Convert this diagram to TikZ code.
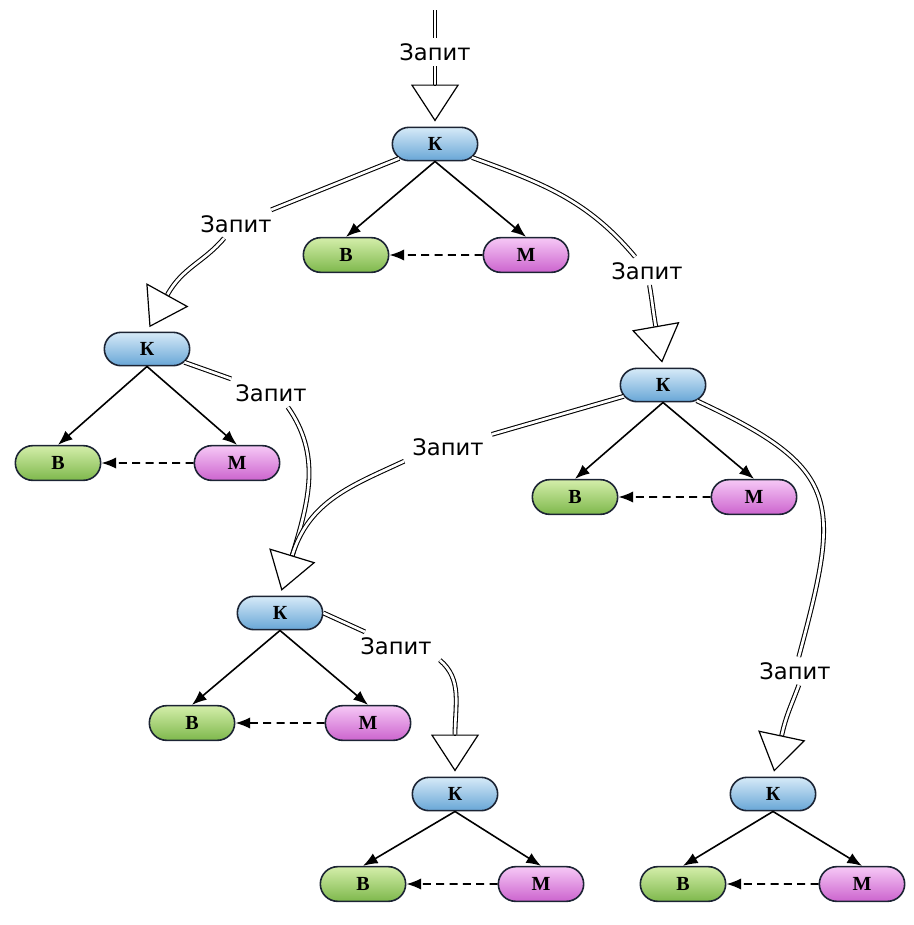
\documentclass[tikz,border=0pt]{standalone}
\usepackage{fontspec}
\usetikzlibrary{shapes.misc,arrows.meta}
\newfontfamily\zapfont{DejaVu Sans}
\newfontfamily\boxfont{Liberation Serif}
\definecolor{box_edge}{RGB}{28, 36, 52}
\definecolor{k_top}{RGB}{214, 234, 248}
\definecolor{k_bot}{RGB}{104, 166, 214}
\definecolor{b_top}{RGB}{212, 238, 170}
\definecolor{b_bot}{RGB}{126, 184, 76}
\definecolor{m_top}{RGB}{246, 200, 246}
\definecolor{m_bot}{RGB}{204, 100, 206}
\tikzstyle{kn}=[rounded rectangle,draw=box_edge,line width=1.2pt,
  top color=k_top,bottom color=k_bot,inner sep=0pt,
  minimum width=64pt,minimum height=25pt,
  font=\boxfont\bfseries\fontsize{15pt}{15pt}\selectfont]
\tikzstyle{bn}=[kn,top color=b_top,bottom color=b_bot,minimum height=26pt]
\tikzstyle{mn}=[kn,top color=m_top,bottom color=m_bot,minimum height=26pt]
\tikzstyle{zap}=[fill=white,inner xsep=6pt,inner ysep=4pt,
  font=\zapfont\fontsize{17pt}{17pt}\selectfont]
\tikzstyle{req}=[draw,double,double distance=2pt,line width=0.8pt]
\tikzstyle{reqtip}=[draw,line width=0.9pt,shorten >=3.75pt,
  -{Triangle[open,length=27.75pt,width=36pt]}]
\tikzstyle{child}=[draw,line width=1.2pt,-{Latex[length=11pt,width=8.5pt]}]
\tikzstyle{back}=[draw,line width=1.2pt,dash pattern=on 6pt off 4pt,
  -{Latex[length=11pt,width=8.5pt]}]

\begin{document}
\begin{tikzpicture}[x=0.75pt,y=0.75pt]
    \useasboundingbox (0,0) rectangle (914,-925);
    \node [style=kn] (K1) at (435,-144) {К};
    \node [style=bn] (B1) at (346,-255) {В};
    \node [style=mn] (M1) at (526,-255) {М};
    \node [style=kn] (K2) at (147,-349) {К};
    \node [style=bn] (B2) at (58,-463) {В};
    \node [style=mn] (M2) at (237,-463) {М};
    \node [style=kn] (K3) at (663,-385) {К};
    \node [style=bn] (B3) at (575,-497) {В};
    \node [style=mn] (M3) at (754,-497) {М};
    \node [style=kn] (K4) at (280,-613) {К};
    \node [style=bn] (B4) at (192,-723) {В};
    \node [style=mn] (M4) at (368,-723) {М};
    \node [style=kn] (K5) at (455,-794) {К};
    \node [style=bn] (B5) at (363,-884) {В};
    \node [style=mn] (M5) at (541,-884) {М};
    \node [style=kn] (K6) at (773,-794) {К};
    \node [style=bn] (B6) at (683,-884) {В};
    \node [style=mn] (M6) at (862,-884) {М};
    \node [style=zap] (l0) at (435,-52) {Запит};
    \node [style=zap] (l1) at (236,-224) {Запит};
    \node [style=zap] (l2) at (647,-271) {Запит};
    \node [style=zap] (l3) at (271,-393) {Запит};
    \node [style=zap] (l4) at (448,-447) {Запит};
    \node [style=zap] (l5) at (396,-646) {Запит};
    \node [style=zap] (l6) at (795,-671) {Запит};
    \coordinate (top) at (435,-10);
    \coordinate (b1) at ([shift={(90:42)}]K1.north);
    \coordinate (b2) at ([shift={(61:42)}]K2.north);
    \coordinate (b3) at ([shift={(100:42)}]K3.north);
    \coordinate (b4) at ([shift={(73:42)}]K4.north);
    \coordinate (b5) at ([shift={(90:42)}]K5.north);
    \coordinate (b6) at ([shift={(78:42)}]K6.north);
    \draw [style=req] (top) -- (l0);
    \draw [style=req] (l0) -- (b1);
    \draw [style=req] (K1) -- (l1);
    \draw [style=req] (l1.230) to[out=230,in=61] (b2);
    \draw [style=req] (K1) to[out=-20,in=130] (l2);
    \draw [style=req] (l2) to[out=-80,in=100] (b3);
    \draw [style=req] (K2) -- (l3);
    \draw [style=req] (l3.-40) to[out=-55,in=73] (b4);
    \draw [style=req] (K3) -- (l4);
    \draw [style=req] (l4.south west) to[out=205,in=73] (b4);
    \draw [style=req] (K4.east) -- (l5);
    \draw [style=req] (l5.south east) to[out=-40,in=90] (b5);
    \draw [style=req] (K3) to[out=-25,in=75,looseness=1.5] (l6);
    \draw [style=req] (l6.-75) to[out=-110,in=78] (b6);
    \draw [style=reqtip] (b1) -- (K1.north);
    \draw [style=reqtip] (b2) -- (K2.north);
    \draw [style=reqtip] (b3) -- (K3.north);
    \draw [style=reqtip] (b4) -- (K4.north);
    \draw [style=reqtip] (b5) -- (K5.north);
    \draw [style=reqtip] (b6) -- (K6.north);
    \draw [style=child] (K1.south) -- (B1.north);
    \draw [style=child] (K1.south) -- (M1.north);
    \draw [style=back] (M1) -- (B1);
    \draw [style=child] (K2.south) -- (B2.north);
    \draw [style=child] (K2.south) -- (M2.north);
    \draw [style=back] (M2) -- (B2);
    \draw [style=child] (K3.south) -- (B3.north);
    \draw [style=child] (K3.south) -- (M3.north);
    \draw [style=back] (M3) -- (B3);
    \draw [style=child] (K4.south) -- (B4.north);
    \draw [style=child] (K4.south) -- (M4.north);
    \draw [style=back] (M4) -- (B4);
    \draw [style=child] (K5.south) -- (B5.north);
    \draw [style=child] (K5.south) -- (M5.north);
    \draw [style=back] (M5) -- (B5);
    \draw [style=child] (K6.south) -- (B6.north);
    \draw [style=child] (K6.south) -- (M6.north);
    \draw [style=back] (M6) -- (B6);
  \end{tikzpicture}
\end{document}
